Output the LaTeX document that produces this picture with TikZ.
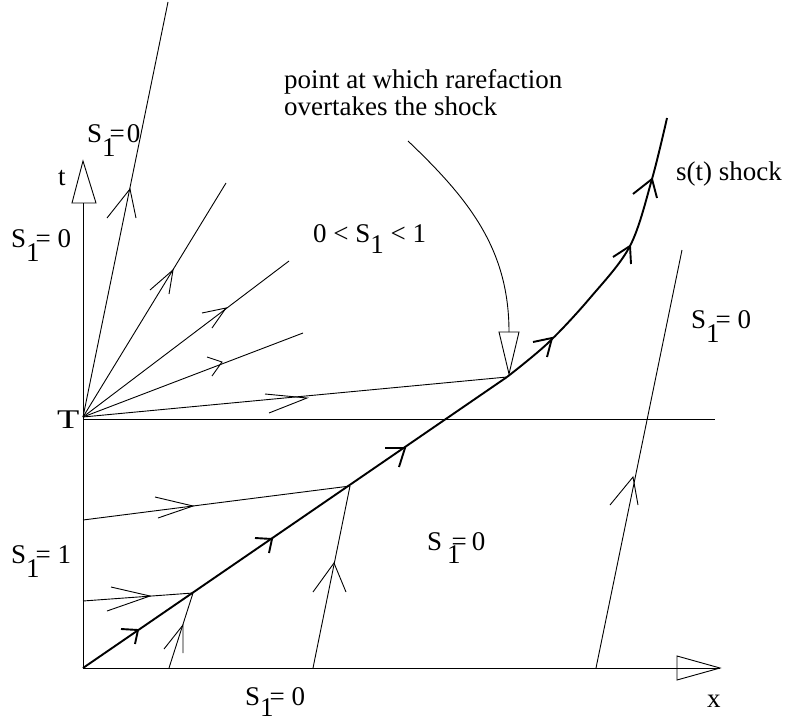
\documentclass[tikz,border=0pt]{standalone}
\usepackage{fontspec}
\setmainfont{Liberation Serif}
\newcommand{\lowsub}[2]{\raisebox{-#1}{#2}}
\begin{document}
\begin{tikzpicture}[x=1pt,y=-1pt,
  thinl/.style={line width=0.9pt},
  thickl/.style={line width=1.9pt},
  barbthin/.style={line width=0.9pt},
  barbthick/.style={line width=1.9pt},
  lbl/.style={inner sep=0pt, anchor=base west, font=\fontsize{27}{30}\selectfont}]
\useasboundingbox (0,0) rectangle (792,720);
% key points
\coordinate (O) at (83,668);
\coordinate (T) at (83,417);
\coordinate (K) at (507,377);
\coordinate (xtip) at (720,668);
\coordinate (xb1) at (677,656);
\coordinate (xb2) at (677,680);
\coordinate (ttip) at (83,161);
\coordinate (tbase) at (83,203);
\coordinate (tb1) at (72,203);
\coordinate (tb2) at (96,203);
\coordinate (hL) at (83,419);
\coordinate (hR) at (715,419);
% axes
\draw[thinl] (O) -- (xtip);
\draw[thinl] (xb1) -- (xtip) -- (xb2) -- cycle;
\draw[thinl] (O) -- (tbase);
\draw[thinl] (tb1) -- (ttip) -- (tb2) -- cycle;
\draw[thinl] (hL) -- (hR);
% fan
\coordinate (f1) at (168,2);
\coordinate (f2) at (226,183);
\coordinate (f3) at (289,261);
\coordinate (f4) at (303,333);
\draw[thinl] (T) -- (f1);
\draw[thinl] (T) -- (f2);
\draw[thinl] (T) -- (f3);
\draw[thinl] (T) -- (f4);
\draw[thinl] (T) -- (K);
% shock
\draw[thickl] (O) -- (K);
\draw[thickl] plot[smooth, tension=0.55] coordinates {(507,377) (548,343) (590,298) (630,246) (652,179) (667,118)};
% characteristic lines below T
\coordinate (a1) at (83,520);
\coordinate (sA) at (350,486);
\coordinate (a2) at (83,601);
\coordinate (sB) at (193,593);
\coordinate (a3) at (169,668);
\coordinate (a4) at (313,668);
\coordinate (a5) at (596,668);
\coordinate (a6) at (682,250);
\draw[thinl] (a1) -- (sA);
\draw[thinl] (a2) -- (sB);
\draw[thinl] (a3) -- (sB);
\draw[thinl] (a4) -- (sA);
\draw[thinl] (a5) -- (a6);
% thin arrowheads
\draw[barbthin] (107,218) -- (130,189) -- (136,218);
\draw[barbthin] (150,290) -- (173,270) -- (169,294);
\draw[barbthin] (202,313) -- (226,308) -- (212,328);
\draw[barbthin] (207,357) -- (222,362) -- (212,376);
\draw[barbthin] (265,394) -- (307,398) -- (269,413);
\draw[barbthin] (155,497) -- (193,506) -- (158,518);
\draw[barbthin] (111,587) -- (150,596) -- (107,611);
\draw[barbthin] (164,649) -- (183,625) -- (183,653);
\draw[barbthin] (313,592) -- (334,563) -- (346,592);
\draw[barbthin] (610,505) -- (633,477) -- (638,505);
% thick arrowheads on shock
\draw[barbthick] (121,629) -- (138,630) -- (135,644);
\draw[barbthick] (255,538) -- (272,539) -- (269,553);
\draw[barbthick] (385,448) -- (405,448) -- (399,467);
\draw[barbthick] (533,342) -- (552,338) -- (547,357);
\draw[barbthick] (613,257) -- (630,246) -- (631,264);
\draw[barbthick] (633,194) -- (652,179) -- (657,198);
% callout
\coordinate (c0) at (408,141);
\coordinate (c1) at (509,332);
\coordinate (cb1) at (499,332);
\coordinate (cb2) at (519,332);
\coordinate (ctip) at (509,374);
\draw[thinl] (c0) .. controls (470,200) and (509,250) .. (c1);
\draw[thinl] (cb1) -- (ctip) -- (cb2) -- cycle;
% labels
\node[lbl] (call1) at (284,88) {point at which rarefaction};
\node[lbl] (call2) at (284,115) {overtakes the shock};
\node[lbl] (shk) at (676,180) {s(t) shock};
\node[lbl] (tl) at (58,185) {t};
\node[lbl] (Tl) at (57,428) {\scalebox{1.35}[1]{T}};
\node[lbl] (xl) at (707,707) {x};
\node[lbl] (mid) at (313,242) {0 < S\lowsub{11pt}{1} < 1};
\node[lbl] (sTop) at (87,142) {S\lowsub{14pt}{1}\kern-6pt=\kern2pt0};
\node[lbl] (sLeft) at (11,247) {S\lowsub{14pt}{1}\kern-4pt= 0};
\node[lbl] (sLeftB) at (11,563) {S\lowsub{14pt}{1}\kern-4pt= 1};
\node[lbl] (sBot) at (245,705) {S\lowsub{11pt}{1}\kern-4pt= 0};
\node[lbl] (sRight) at (691,328) {S\lowsub{14pt}{1}\kern-4pt= 0};
\node[lbl] (sMid) at (427,550) {S\kern5pt\lowsub{13pt}{1}\kern-9pt=\kern5pt0};
\end{tikzpicture}
\end{document}
